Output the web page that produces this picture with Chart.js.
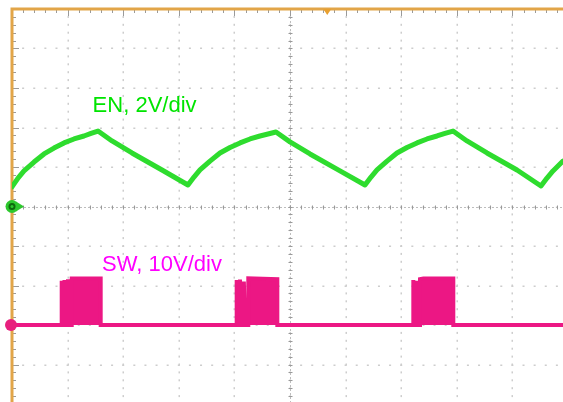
<!DOCTYPE html>
<html>
<head>
<meta charset="utf-8">
<script src="https://cdn.jsdelivr.net/npm/chart.js@4.4.1/dist/chart.umd.min.js"></script>
<style>
  html, body { margin: 0; padding: 0; background: #ffffff; overflow: hidden; width: 563px; height: 402px; }
  #wrap { position: absolute; left: 0; top: 0; width: 563px; height: 402px; overflow: hidden; }
  canvas { display: block; }
</style>
</head>
<body>
<div id="wrap"><canvas id="c" width="600" height="420"></canvas></div>
<script>
// ---- Channel settings (oscilloscope) ----
const EN_VOLTS_PER_DIV = 2;    // "EN, 2V/div"
const EN_OFFSET_DIV = 0;       // EN ground marker at screen centre
const SW_VOLTS_PER_DIV = 10;   // "SW, 10V/div"
const SW_OFFSET_DIV = -3;      // SW ground marker 3 div below centre
const TRIGGER_TIME_DIV = 5.67; // trigger marker on top edge

// ---- Axis ranges (divisions) ----
const TIME_DIVS = [0, 10];
const VERT_DIVS = [-5, 5];

// ---- EN trace: time (div) and voltage (V) ----
const enTime = [0, 0.108, 0.216, 0.396, 0.576, 0.755, 0.935, 1.115, 1.295, 1.421, 1.547,
                1.799, 2.158, 2.698, 3.165,
                3.273, 3.381, 3.561, 3.741, 3.921, 4.101, 4.281, 4.460, 4.604, 4.748,
                5.000, 5.360, 5.899, 6.349,
                6.457, 6.565, 6.745, 6.924, 7.104, 7.284, 7.464, 7.644, 7.788, 7.932,
                8.183, 8.543, 9.083, 9.514,
                9.622, 9.730, 9.910];
const enVolts = [0.99, 1.44, 1.80, 2.25, 2.66, 2.96, 3.22, 3.42, 3.57, 3.70, 3.82,
                 3.32, 2.71, 1.85, 1.09,
                 1.49, 1.85, 2.30, 2.71, 2.99, 3.22, 3.42, 3.57, 3.67, 3.77,
                 3.27, 2.66, 1.80, 1.09,
                 1.49, 1.85, 2.30, 2.71, 2.99, 3.22, 3.42, 3.57, 3.70, 3.82,
                 3.32, 2.71, 1.85, 1.04,
                 1.44, 1.80, 2.30];

// ---- SW trace: time (div) and voltage (V), switching bursts ----
const swTime = [0,
  0.894, 0.894, 0.910, 0.944, 0.944, 0.962, 1.007, 1.007, 1.025, 1.074, 1.074, 1.595, 1.595,
  4.041, 4.041, 4.060, 4.100, 4.100, 4.120, 4.170, 4.170, 4.190, 4.250, 4.250, 4.772, 4.772,
  7.218, 7.218, 7.240, 7.270, 7.270, 7.300, 7.338, 7.338, 7.400, 7.937, 7.937,
  9.910];
const swVolts = [0,
  0, 11.2, 0, 0, 11.4, 0, 0, 11.6, 0, 0, 11.8, 11.8, 0,
  0, 11.4, 0, 0, 11.5, 0, 0, 11.0, 0, 0, 11.8, 11.6, 0,
  0, 11.4, 0, 0, 11.2, 0, 0, 11.6, 11.8, 11.8, 0,
  0];

// ---- Labels ----
const enLabel = { text: 'EN, 2V/div', t: 1.45, div: 2.40, color: '#00E400' };
const swLabel = { text: 'SW, 10V/div', t: 1.62, div: -1.63, color: '#FF00FF' };

const enPoints = enTime.map((t, i) => ({ x: t, y: enVolts[i] / EN_VOLTS_PER_DIV + EN_OFFSET_DIV }));
const swPoints = swTime.map((t, i) => ({ x: t, y: swVolts[i] / SW_VOLTS_PER_DIV + SW_OFFSET_DIV }));

const EN_COLOR = '#2EDC2E';
const SW_COLOR = '#EC1784';
const FRAME_COLOR = '#E2A548';
const GRID_COLOR = '#CDCDCD';
const TICK_COLOR = '#9A9A9A';

const graticule = {
  id: 'graticule',
  beforeDatasetsDraw(chart) {
    const { ctx, chartArea: a, scales: { x, y } } = chart;
    ctx.save();
    // dotted grid lines at every division
    ctx.fillStyle = GRID_COLOR;
    for (let d = TIME_DIVS[0] + 1; d < TIME_DIVS[1]; d++) {
      const px = Math.round(x.getPixelForValue(d));
      for (let m = VERT_DIVS[0] * 5; m <= VERT_DIVS[1] * 5; m++) {
        const py = y.getPixelForValue(m / 5);
        ctx.fillRect(px - 0.5, py - 1, 1.5, 2);
      }
    }
    for (let d = VERT_DIVS[0] + 1; d < VERT_DIVS[1]; d++) {
      const py = Math.round(y.getPixelForValue(d));
      for (let m = TIME_DIVS[0] * 5; m <= TIME_DIVS[1] * 5; m++) {
        const px = x.getPixelForValue(m / 5);
        ctx.fillRect(px - 1, py - 0.5, 2, 1.5);
      }
    }
    // centre lines with minor ticks
    const cx = Math.round(x.getPixelForValue((TIME_DIVS[0] + TIME_DIVS[1]) / 2)) + 0.5;
    const cy = Math.round(y.getPixelForValue(0)) + 0.5;
    ctx.strokeStyle = '#BDBDBD';
    ctx.lineWidth = 1;
    ctx.setLineDash([2, 2]);
    ctx.beginPath();
    ctx.moveTo(a.left, cy); ctx.lineTo(a.right, cy);
    ctx.moveTo(cx, a.top); ctx.lineTo(cx, a.bottom);
    ctx.stroke();
    ctx.setLineDash([]);
    ctx.strokeStyle = TICK_COLOR;
    ctx.beginPath();
    for (let m = TIME_DIVS[0] * 5; m <= TIME_DIVS[1] * 5; m++) {
      const px = Math.round(x.getPixelForValue(m / 5)) + 0.5;
      ctx.moveTo(px, cy - 2); ctx.lineTo(px, cy + 2);
    }
    for (let m = VERT_DIVS[0] * 5; m <= VERT_DIVS[1] * 5; m++) {
      const py = Math.round(y.getPixelForValue(m / 5)) + 0.5;
      ctx.moveTo(cx - 2, py); ctx.lineTo(cx + 2, py);
    }
    ctx.stroke();
    // ticks along top and left frame
    ctx.strokeStyle = TICK_COLOR;
    ctx.beginPath();
    for (let m = TIME_DIVS[0] * 5; m <= TIME_DIVS[1] * 5; m++) {
      const px = Math.round(x.getPixelForValue(m / 5)) + 0.5;
      const len = (m % 5 === 0) ? 7 : 4;
      ctx.moveTo(px, a.top); ctx.lineTo(px, a.top + len);
    }
    for (let m = VERT_DIVS[0] * 5; m <= VERT_DIVS[1] * 5; m++) {
      const py = Math.round(y.getPixelForValue(m / 5)) + 0.5;
      const len = (m % 5 === 0) ? 7 : 4;
      ctx.moveTo(a.left, py); ctx.lineTo(a.left + len, py);
    }
    ctx.stroke();
    // frame (top and left)
    ctx.strokeStyle = FRAME_COLOR;
    ctx.lineWidth = 3;
    ctx.beginPath();
    ctx.moveTo(a.left, a.bottom + 5); ctx.lineTo(a.left, a.top); ctx.lineTo(a.right + 5, a.top);
    ctx.stroke();
    // trigger marker
    const tx = x.getPixelForValue(TRIGGER_TIME_DIV);
    ctx.fillStyle = '#E8A030';
    ctx.beginPath();
    ctx.moveTo(tx - 4, a.top); ctx.lineTo(tx + 4, a.top); ctx.lineTo(tx, a.top + 6);
    ctx.closePath(); ctx.fill();
    ctx.restore();
  },
  afterDatasetsDraw(chart) {
    const { ctx, chartArea: a, scales: { x, y } } = chart;
    ctx.save();
    // ground markers
    const enG = y.getPixelForValue(EN_OFFSET_DIV);
    ctx.fillStyle = '#2EC82E';
    ctx.beginPath(); ctx.moveTo(a.left + 4, enG - 5); ctx.lineTo(a.left + 12, enG); ctx.lineTo(a.left + 4, enG + 5); ctx.fill();
    ctx.beginPath(); ctx.arc(a.left, enG, 6.5, 0, Math.PI * 2); ctx.fill();
    ctx.fillStyle = '#0E6A0E';
    ctx.beginPath(); ctx.arc(a.left, enG, 3.5, 0, Math.PI * 2); ctx.fill();
    ctx.fillStyle = '#2EC82E';
    ctx.beginPath(); ctx.arc(a.left, enG, 1.5, 0, Math.PI * 2); ctx.fill();
    const swG = y.getPixelForValue(SW_OFFSET_DIV);
    ctx.fillStyle = '#E8207E';
    ctx.beginPath(); ctx.arc(a.left - 1, swG, 6, 0, Math.PI * 2); ctx.fill();
    // channel labels
    ctx.font = '22px "Liberation Sans", Arial, sans-serif';
    ctx.textBaseline = 'alphabetic';
    ctx.textAlign = 'left';
    for (const l of [enLabel, swLabel]) {
      ctx.fillStyle = l.color;
      ctx.fillText(l.text, x.getPixelForValue(l.t), y.getPixelForValue(l.div));
    }
    ctx.restore();
  }
};

new Chart(document.getElementById('c'), {
  type: 'line',
  data: {
    datasets: [
      {
        label: 'SW',
        data: swPoints,
        borderColor: SW_COLOR,
        backgroundColor: SW_COLOR,
        borderWidth: 4,
        pointRadius: 0,
        tension: 0,
        fill: { value: SW_OFFSET_DIV }
      },
      {
        label: 'EN',
        data: enPoints,
        borderColor: EN_COLOR,
        borderWidth: 5,
        pointRadius: 0,
        tension: 0,
        borderJoinStyle: 'round',
        borderCapStyle: 'round',
        fill: false
      }
    ]
  },
  options: {
    responsive: false,
    animation: false,
    events: [],
    layout: { padding: { left: 12, top: 9, right: 32, bottom: 16 } },
    plugins: { legend: { display: false }, tooltip: { enabled: false } },
    scales: {
      x: { type: 'linear', display: false, min: TIME_DIVS[0], max: TIME_DIVS[1] },
      y: { type: 'linear', display: false, min: VERT_DIVS[0], max: VERT_DIVS[1] }
    }
  },
  plugins: [graticule]
});
</script>
</body>
</html>
